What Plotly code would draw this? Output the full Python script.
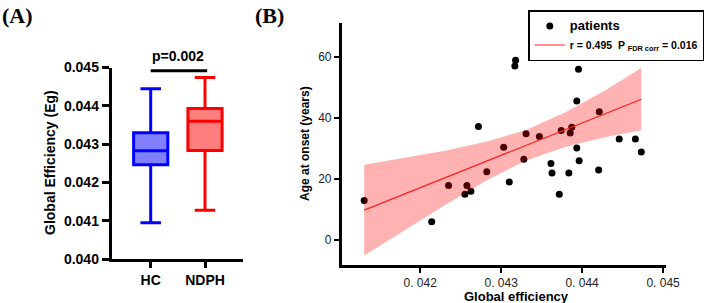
import plotly.graph_objects as go

# ---------------- Panel A data (box summary stats) ----------------
groups = ["HC", "NDPH"]
q1_vals = [0.042464, 0.042839]
median_vals = [0.042828, 0.043602]
q3_vals = [0.043297, 0.043932]
low_vals = [0.040953, 0.041276]
high_vals = [0.044443, 0.044740]
line_colors = ["#0000ff", "#ff0000"]
fill_colors = ["rgba(0,0,255,0.5)", "rgba(255,0,0,0.5)"]
a_ticks = [0.040, 0.041, 0.042, 0.043, 0.044, 0.045]
a_ticktext = ["0.040", "0.041", "0.042", "0.043", "0.044", "0.045"]
p_text = "p=0.002"
sig_y = 0.044917

# ---------------- Panel B data (scatter) ----------------
global_eff = [0.041308, 0.042142, 0.04235, 0.042552, 0.042577, 0.042626, 0.042719,
              0.042822, 0.043031, 0.043100, 0.043169, 0.043178, 0.043280, 0.043308,
              0.043472, 0.043615, 0.043628, 0.043718, 0.043742, 0.043836, 0.043853,
              0.043872, 0.043934, 0.043934, 0.043955, 0.043963, 0.044204, 0.044212,
              0.044458, 0.044658, 0.044731]
age_onset = [13.0, 6.0, 17.9, 15.0, 17.9, 16.0, 37.2,
             22.4, 30.4, 19.0, 57.1, 59.0, 26.5, 34.9,
             34.0, 25.1, 22.0, 15.0, 35.9, 22.0, 35.1,
             37.0, 45.6, 30.2, 56.0, 26.0, 23.0, 42.1,
             33.1, 33.1, 28.9]
# regression line and its confidence band
fit_x = [0.041308, 0.044731]
fit_y = [9.8, 46.2]
band_x = [0.041308, 0.041808, 0.042308, 0.042808, 0.043308, 0.043808, 0.044308, 0.044731]
band_upper = [24.7, 26.9, 29.3, 32.2, 36.1, 42.1, 49.5, 56.4]
band_lower = [-5.1, 3.3, 11.5, 19.4, 26.1, 30.7, 33.9, 36.0]
b_xticks = [0.042, 0.043, 0.044, 0.045]
b_xticktext = ["0. 042", "0. 043", "0. 044", "0. 045"]
b_yticks = [0, 20, 40, 60]

W, H = 708, 303
def px(v):
    return v / W
def py(v):
    return 1 - v / H

FONT = "Liberation Sans, Arial, sans-serif"
SERIF = "Liberation Serif, Times New Roman, serif"
fig = go.Figure()

for g, q1, md, q3, lo, hi, lc, fc in zip(groups, q1_vals, median_vals, q3_vals,
                                          low_vals, high_vals, line_colors, fill_colors):
    fig.add_trace(go.Box(
        x=[g], q1=[q1], median=[md], q3=[q3], lowerfence=[lo], upperfence=[hi],
        line=dict(color=lc, width=3), fillcolor=fc, width=0.63, whiskerwidth=0.6,
        boxpoints=False, showlegend=False, xaxis="x", yaxis="y", hoverinfo="skip"))

fig.add_trace(go.Scatter(
    x=global_eff, y=age_onset, mode="markers",
    name="<span style='font-size:13px'>patients</span>",
    marker=dict(color="black", size=7), xaxis="x2", yaxis="y2"))
fig.add_trace(go.Scatter(
    x=band_x, y=band_upper, mode="lines", line=dict(width=0), showlegend=False,
    xaxis="x2", yaxis="y2", hoverinfo="skip"))
fig.add_trace(go.Scatter(
    x=band_x, y=band_lower, mode="lines", line=dict(width=0), fill="tonexty",
    fillcolor="rgba(255,0,0,0.3)", showlegend=False, xaxis="x2", yaxis="y2",
    hoverinfo="skip"))
fig.add_trace(go.Scatter(
    x=fit_x, y=fit_y, mode="lines", line=dict(color="#ff2020", width=1.2),
    name="<span style='font-size:10.5px'>r = 0.495  P <sub>FDR corr</sub> = 0.016</span>",
    xaxis="x2", yaxis="y2"))

hc_px, unit = 150.7, 54.3
fig.update_layout(
    width=W, height=H, margin=dict(l=0, r=0, t=0, b=0, autoexpand=False),
    paper_bgcolor="white", plot_bgcolor="white",
    font=dict(family=FONT, color="black"),
    xaxis=dict(domain=[px(111.5), px(242.7)], type="category",
               range=[-(hc_px - 111.5) / unit, (242.7 - hc_px) / unit],
               showline=True, linecolor="black", linewidth=2.5,
               ticks="outside", ticklen=6, tickwidth=2.5, tickcolor="black",
               tickfont=dict(size=14, weight="bold"), showgrid=False,
               zeroline=False, automargin=False),
    yaxis=dict(domain=[py(259.3), py(67.5)], range=[0.040, 0.045],
               tickvals=a_ticks, ticktext=a_ticktext,
               showline=True, linecolor="black", linewidth=2.5,
               ticks="outside", ticklen=7, tickwidth=2.5, tickcolor="black",
               tickfont=dict(size=14, weight="bold"), showgrid=False,
               zeroline=False, automargin=False),
    xaxis2=dict(domain=[px(341.7), px(665.5)], range=[0.04103, 0.04503],
                tickvals=b_xticks, ticktext=b_xticktext,
                showline=True, linecolor="black", linewidth=2.5,
                ticks="outside", ticklen=5, tickwidth=2, tickcolor="black",
                tickfont=dict(size=12, color="#222"), showgrid=False,
                zeroline=False, anchor="y2", automargin=False),
    yaxis2=dict(domain=[py(265), py(23.3)], range=[-8.2, 71.1],
                tickvals=b_yticks,
                showline=True, linecolor="black", linewidth=2.5,
                ticks="outside", ticklen=5, tickwidth=2, tickcolor="black",
                tickfont=dict(size=12, color="#222"), showgrid=False,
                zeroline=False, anchor="x2", automargin=False),
    legend=dict(x=px(528.3), y=py(10), xanchor="left", yanchor="top",
                bordercolor="black", borderwidth=1.5, bgcolor="white",
                font=dict(size=9, weight="bold"), tracegroupgap=0,
                itemwidth=30, traceorder="normal"),
    showlegend=True,
)

# significance bar
fig.add_shape(type="line", xref="x", yref="y", x0=0, x1=1.04,
              y0=sig_y, y1=sig_y, line=dict(color="black", width=3))

def ann(text, x, y, size, angle=0, family=FONT, xa="center", ya="middle"):
    return dict(text=text, x=px(x), y=py(y), xref="paper", yref="paper",
                xanchor=xa, yanchor=ya, textangle=angle, showarrow=False,
                font=dict(family=family, size=size, weight="bold", color="black"))

annotations = [
    ann(p_text, 178, 56.5, 14),
    ann("(A)", 0, 1, 22, family=SERIF, xa="left", ya="top"),
    ann("(B)", 253, 1, 22, family=SERIF, xa="left", ya="top"),
    ann("Global Efficiency (Eg)", 50, 163, 14, angle=-90),
    ann("Age at onset (years)", 305, 144, 12, angle=-90),
    ann("Global efficiency", 516, 296, 13),
]
fig.update_layout(annotations=annotations)

fig.write_html("out.html", config={"displayModeBar": False},
               post_script="document.body.style.margin='0';document.body.style.padding='0';")
